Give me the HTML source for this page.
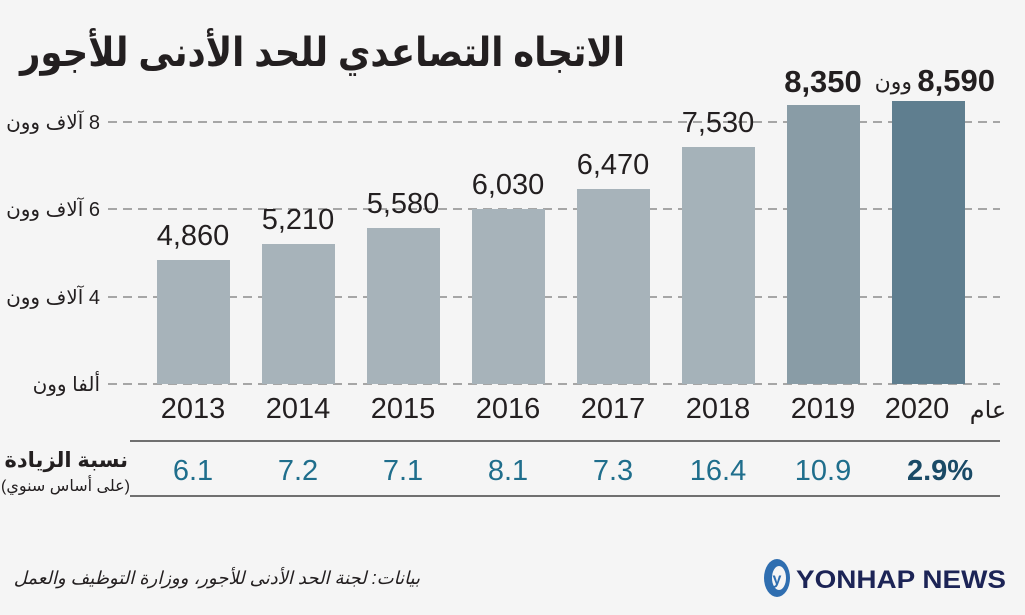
<!DOCTYPE html>
<html><head><meta charset="utf-8"><style>
body{margin:0;background:#f5f5f5;}
svg text{font-family:"Liberation Sans","DejaVu Sans",sans-serif;}
</style></head><body>
<svg width="1025" height="610" xmlns="http://www.w3.org/2000/svg">
<rect width="1025" height="610" fill="#f5f5f5"/>
<text x="625" y="66" text-anchor="start" direction="rtl" font-size="40" font-weight="bold" fill="#231f20" textLength="605" lengthAdjust="spacingAndGlyphs">الاتجاه التصاعدي للحد الأدنى للأجور</text>
<g stroke="#777" stroke-width="1.3" stroke-dasharray="9,6">
<line x1="108" y1="122" x2="1000" y2="122"/>
<line x1="108" y1="209" x2="1000" y2="209"/>
<line x1="108" y1="297" x2="1000" y2="297"/>
<line x1="108" y1="384" x2="1000" y2="384"/>
</g>
<g font-size="20" fill="#231f20" text-anchor="start" direction="rtl">
<text x="100" y="129">8 آلاف وون</text>
<text x="100" y="216">6 آلاف وون</text>
<text x="100" y="304">4 آلاف وون</text>
<text x="100" y="391">ألفا وون</text>
</g>
<g>
<rect x="157" y="260" width="73" height="124" fill="#a7b3ba"/>
<rect x="262" y="244" width="73" height="140" fill="#a7b3ba"/>
<rect x="367" y="228" width="73" height="156" fill="#a7b3ba"/>
<rect x="472" y="209" width="73" height="175" fill="#a7b3ba"/>
<rect x="577" y="189" width="73" height="195" fill="#a7b3ba"/>
<rect x="682" y="147" width="73" height="237" fill="#a5b2b9"/>
<rect x="787" y="105" width="73" height="279" fill="#899ca6"/>
<rect x="892" y="101" width="73" height="283" fill="#5f7e8f"/>
</g>
<g font-size="29" fill="#231f20" text-anchor="middle">
<text x="193" y="245">4,860</text>
<text x="298" y="229">5,210</text>
<text x="403" y="213">5,580</text>
<text x="508" y="194">6,030</text>
<text x="613" y="174">6,470</text>
<text x="718" y="132">7,530</text>
<text x="823" y="92" font-weight="bold" font-size="31">8,350</text>
<text x="995" y="91" font-weight="bold" font-size="31" text-anchor="end">8,590</text>
<text x="912" y="89" font-size="22" text-anchor="end">وون</text>
</g>
<g font-size="29" fill="#231f20" text-anchor="middle">
<text x="193" y="418">2013</text>
<text x="298" y="418">2014</text>
<text x="403" y="418">2015</text>
<text x="508" y="418">2016</text>
<text x="613" y="418">2017</text>
<text x="718" y="418">2018</text>
<text x="823" y="418">2019</text>
<text x="917" y="418">2020</text>
<text x="988" y="418" font-size="24">عام</text>
</g>
<line x1="130" y1="441" x2="1000" y2="441" stroke="#444" stroke-width="1.5"/>
<line x1="130" y1="496" x2="1000" y2="496" stroke="#444" stroke-width="1.5"/>
<text x="128" y="467" text-anchor="start" direction="rtl" font-size="21" font-weight="bold" fill="#231f20">نسبة الزيادة</text>
<text x="130" y="491" text-anchor="start" direction="rtl" font-size="16" fill="#231f20">(على أساس سنوي)</text>
<g font-size="29" fill="#1f6e8c" text-anchor="middle">
<text x="193" y="480">6.1</text>
<text x="298" y="480">7.2</text>
<text x="403" y="480">7.1</text>
<text x="508" y="480">8.1</text>
<text x="613" y="480">7.3</text>
<text x="718" y="480">16.4</text>
<text x="823" y="480">10.9</text>
<text x="940" y="480" font-weight="bold" fill="#1a4a66">2.9%</text>
</g>
<text x="420" y="584" text-anchor="start" direction="rtl" font-size="18" font-style="italic" fill="#231f20">بيانات: لجنة الحد الأدنى للأجور، ووزارة التوظيف والعمل</text>
<ellipse cx="777" cy="578" rx="13" ry="19" fill="#2f6eb0"/>
<ellipse cx="779" cy="578" rx="7" ry="12" fill="#f5f5f5"/>
<text x="777" y="584" text-anchor="middle" font-size="16" font-weight="bold" fill="#2f6eb0">y</text>
<text x="796" y="588" font-size="25" font-weight="bold" fill="#1c2456" textLength="210" lengthAdjust="spacingAndGlyphs">YONHAP NEWS</text>
</svg>
</body></html>
